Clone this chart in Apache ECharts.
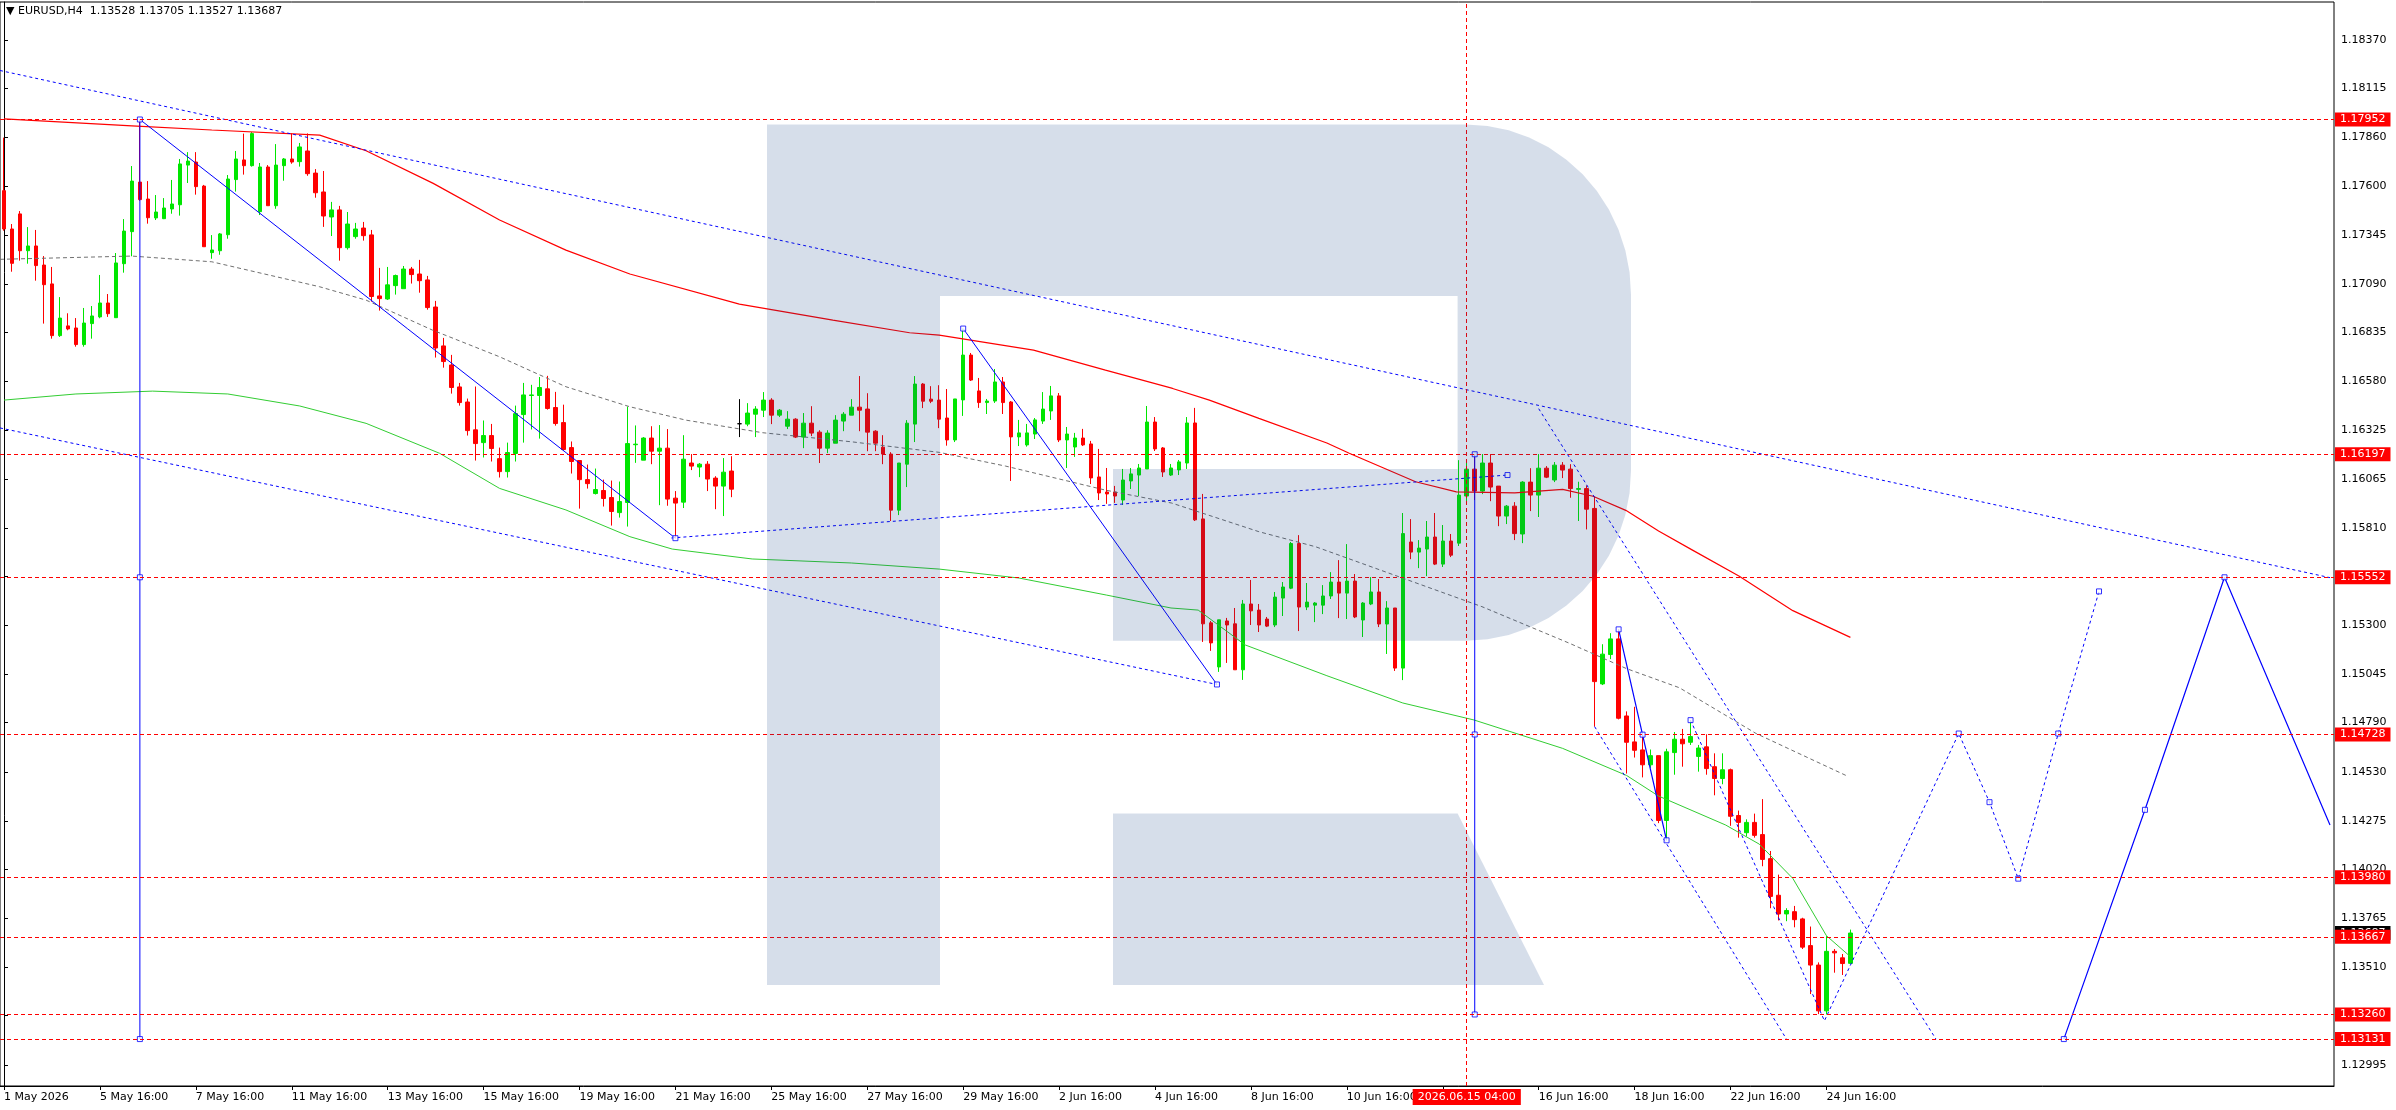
<!DOCTYPE html>
<html>
<head>
<meta charset="utf-8">
<script src="https://cdn.jsdelivr.net/npm/echarts@6/dist/echarts.min.js"></script>
<style>
  html, body { margin: 0; padding: 0; background: #fff; }
  #chart { width: 2396px; height: 1110px; }
</style>
</head>
<body>
<div id="chart"></div>
<script>
// EURUSD H4, bars from 1 May 2026 16:00 to 25 Jun 2026 04:00
const opens = [
  1.17579,1.17378,1.17457,1.17264,1.17289,1.17189,1.17090,1.16819,1.16870,1.16859,
  1.16772,1.16882,1.16917,1.16990,1.16913,1.17196,1.17364,1.17624,1.17535,1.17436,
  1.17432,1.17483,1.17505,1.17713,1.17729,1.17603,1.17254,1.17264,1.17348,1.17637,
  1.17740,1.17710,1.17469,1.17703,1.17500,1.17710,1.17745,1.17731,1.17787,1.17671,
  1.17572,1.17441,1.17478,1.17280,1.17338,1.17383,1.17347,1.17027,1.17011,1.17081,
  1.17065,1.17168,1.17142,1.17111,1.16969,1.16765,1.16665,1.16550,1.16471,1.16325,
  1.16258,1.16295,1.16174,1.16106,1.16201,1.16405,1.16505,1.16505,1.16540,1.16442,
  1.16363,1.16232,1.16164,1.16064,1.15991,1.16007,1.15970,1.15891,1.15944,1.16247,
  1.16166,1.16282,1.16213,1.16229,1.15967,1.15946,1.16151,1.16130,1.16145,1.16072,
  1.16030,1.16109,1.16357,1.16355,1.16407,1.16428,1.16481,1.16402,1.16344,1.16381,
  1.16287,1.16360,1.16313,1.16229,1.16255,1.16371,1.16402,1.16444,1.16434,1.16318,
  1.16234,1.16198,1.15904,1.16145,1.16355,1.16565,1.16486,1.16481,1.16387,1.16272,
  1.16482,1.16717,1.16529,1.16468,1.16476,1.16576,1.16471,1.16288,1.16246,1.16303,
  1.16371,1.16424,1.16503,1.16272,1.16235,1.16282,1.16251,1.16078,1.15999,1.15999,
  1.15957,1.16057,1.16088,1.16120,1.16366,1.16230,1.16088,1.16115,1.16151,1.16361,
  1.15858,1.15313,1.15082,1.15323,1.15308,1.15067,1.15412,1.15380,1.15333,1.15302,
  1.15443,1.15495,1.15729,1.15396,1.15406,1.15406,1.15454,1.15527,1.15469,1.15532,
  1.15328,1.15412,1.15475,1.15307,1.15391,1.15076,1.15737,1.15684,1.15700,1.15763,
  1.15621,1.15742,1.15731,1.15978,1.16119,1.16004,1.16151,1.16030,1.15873,1.15925,
  1.15779,1.16051,1.15983,1.16124,1.16062,1.16140,1.16119,1.16013,1.16017,1.15913,
  1.14993,1.15147,1.15229,1.14825,1.14689,1.14647,1.14569,1.14617,1.14277,1.14633,
  1.14703,1.14687,1.14613,1.14663,1.14559,1.14497,1.14543,1.14303,1.14213,1.14267,
  1.14203,1.14077,1.13885,1.13787,1.13799,1.13761,1.13621,1.13519,1.13279,1.13591,
  1.13557,1.13528
];
const highs = [
  1.17857,1.17404,1.17472,1.17388,1.17373,1.17236,1.17179,1.17021,1.16936,1.16911,
  1.16964,1.16974,1.17137,1.17037,1.17252,1.17430,1.17708,1.17952,1.17629,1.17556,
  1.17540,1.17635,1.17745,1.17781,1.17781,1.17609,1.17346,1.17357,1.17661,1.17787,
  1.17878,1.17886,1.17724,1.17713,1.17823,1.17750,1.17879,1.17829,1.17879,1.17692,
  1.17682,1.17520,1.17499,1.17467,1.17410,1.17415,1.17373,1.17174,1.17179,1.17139,
  1.17184,1.17179,1.17216,1.17132,1.17001,1.16807,1.16718,1.16571,1.16489,1.16552,
  1.16374,1.16356,1.16232,1.16258,1.16452,1.16571,1.16561,1.16602,1.16608,1.16524,
  1.16457,1.16264,1.16164,1.16143,1.16122,1.16064,1.16059,1.16054,1.16447,1.16348,
  1.16287,1.16344,1.16350,1.16329,1.16004,1.16297,1.16198,1.16151,1.16161,1.16082,
  1.16177,1.16187,1.16486,1.16465,1.16449,1.16523,1.16491,1.16434,1.16423,1.16386,
  1.16413,1.16449,1.16323,1.16323,1.16402,1.16418,1.16486,1.16607,1.16517,1.16323,
  1.16297,1.16208,1.16151,1.16376,1.16607,1.16570,1.16554,1.16559,1.16539,1.16487,
  1.16856,1.16728,1.16597,1.16487,1.16644,1.16602,1.16476,1.16377,1.16356,1.16387,
  1.16523,1.16555,1.16518,1.16340,1.16309,1.16330,1.16267,1.16225,1.16125,1.16031,
  1.16120,1.16125,1.16146,1.16450,1.16392,1.16235,1.16146,1.16167,1.16392,1.16440,
  1.15989,1.15323,1.15329,1.15339,1.15391,1.15433,1.15538,1.15412,1.15344,1.15475,
  1.15527,1.15737,1.15773,1.15522,1.15422,1.15511,1.15579,1.15642,1.15726,1.15569,
  1.15422,1.15553,1.15543,1.15427,1.15391,1.15889,1.15857,1.15747,1.15847,1.15889,
  1.15826,1.15779,1.16166,1.16166,1.16197,1.16198,1.16198,1.16030,1.15931,1.15946,
  1.16056,1.16124,1.16198,1.16135,1.16156,1.16156,1.16145,1.16053,1.16033,1.15973,
  1.15201,1.15259,1.15279,1.14849,1.14873,1.14729,1.14649,1.14617,1.14653,1.14741,
  1.14757,1.14803,1.14673,1.14729,1.14629,1.14629,1.14549,1.14329,1.14283,1.14313,
  1.14389,1.14117,1.13993,1.13817,1.13829,1.13767,1.13721,1.13533,1.13671,1.13603,
  1.13577,1.13705
];
const lows = [
  1.17369,1.17154,1.17212,1.17196,1.17107,1.16882,1.16803,1.16812,1.16847,1.16761,
  1.16761,1.16803,1.16910,1.16917,1.16913,1.17149,1.17235,1.17526,1.17406,1.17425,
  1.17430,1.17458,1.17448,1.17619,1.17558,1.17285,1.17222,1.17243,1.17327,1.17574,
  1.17663,1.17705,1.17451,1.17500,1.17484,1.17631,1.17720,1.17705,1.17657,1.17542,
  1.17389,1.17341,1.17212,1.17270,1.17327,1.17317,1.16997,1.16950,1.17006,1.17034,
  1.17065,1.17092,1.17044,1.16955,1.16704,1.16651,1.16515,1.16452,1.16295,1.16164,
  1.16180,1.16159,1.16075,1.16075,1.16159,1.16258,1.16327,1.16279,1.16431,1.16347,
  1.16216,1.16096,1.15912,1.16017,1.15986,1.15923,1.15823,1.15865,1.15818,1.16152,
  1.16166,1.16145,1.15930,1.15927,1.15756,1.15915,1.16114,1.16077,1.16004,1.15909,
  1.15873,1.15972,1.16287,1.16344,1.16287,1.16392,1.16355,1.16392,1.16329,1.16282,
  1.16229,1.16292,1.16151,1.16203,1.16255,1.16318,1.16402,1.16318,1.16213,1.16213,
  1.16145,1.15847,1.15878,1.16025,1.16261,1.16439,1.16465,1.16334,1.16242,1.16261,
  1.16398,1.16581,1.16440,1.16408,1.16466,1.16408,1.16057,1.16240,1.16237,1.16277,
  1.16356,1.16377,1.16261,1.16125,1.16183,1.16240,1.16041,1.15957,1.15937,1.15942,
  1.15931,1.16015,1.15978,1.16120,1.16214,1.16078,1.16083,1.16088,1.16120,1.15847,
  1.15213,1.15166,1.15056,1.15103,1.15067,1.15014,1.15302,1.15265,1.15291,1.15291,
  1.15349,1.15490,1.15270,1.15380,1.15317,1.15359,1.15438,1.15338,1.15333,1.15338,
  1.15239,1.15406,1.15291,1.15150,1.15061,1.15013,1.15647,1.15600,1.15558,1.15616,
  1.15606,1.15658,1.15716,1.15931,1.15957,1.15988,1.15951,1.15820,1.15831,1.15747,
  1.15731,1.15899,1.15868,1.16072,1.16051,1.16072,1.15969,1.15847,1.15803,1.14769,
  1.14987,1.15123,1.14807,1.14523,1.14607,1.14503,1.14553,1.14263,1.14173,1.14517,
  1.14559,1.14673,1.14533,1.14517,1.14409,1.14467,1.14249,1.14187,1.14193,1.14187,
  1.14037,1.13817,1.13753,1.13749,1.13717,1.13603,1.13367,1.13262,1.13260,1.13479,
  1.13467,1.13527
];
const closes = [
  1.17378,1.17198,1.17264,1.17289,1.17186,1.17086,1.16819,1.16911,1.16854,1.16772,
  1.16885,1.16922,1.16990,1.16934,1.17200,1.17367,1.17629,1.17532,1.17437,1.17467,
  1.17488,1.17509,1.17719,1.17734,1.17600,1.17285,1.17268,1.17352,1.17640,1.17745,
  1.17710,1.17878,1.17703,1.17500,1.17713,1.17745,1.17729,1.17808,1.17668,1.17568,
  1.17446,1.17478,1.17280,1.17404,1.17378,1.17343,1.17024,1.17013,1.17085,1.17134,
  1.17168,1.17139,1.17107,1.16966,1.16754,1.16683,1.16547,1.16468,1.16321,1.16253,
  1.16295,1.16227,1.16106,1.16206,1.16410,1.16508,1.16508,1.16547,1.16437,1.16358,
  1.16222,1.16159,1.16064,1.16043,1.16012,1.15965,1.15897,1.15949,1.16253,1.16250,
  1.16282,1.16213,1.16229,1.15962,1.15941,1.16171,1.16135,1.16145,1.16067,1.16030,
  1.16103,1.16014,1.16357,1.16413,1.16434,1.16481,1.16402,1.16428,1.16381,1.16287,
  1.16360,1.16308,1.16229,1.16308,1.16376,1.16407,1.16444,1.16428,1.16313,1.16255,
  1.16198,1.15904,1.16151,1.16360,1.16565,1.16475,1.16475,1.16381,1.16272,1.16487,
  1.16717,1.16586,1.16468,1.16476,1.16576,1.16468,1.16288,1.16309,1.16309,1.16377,
  1.16434,1.16503,1.16272,1.16303,1.16282,1.16246,1.16073,1.15994,1.15989,1.15978,
  1.16062,1.16094,1.16125,1.16366,1.16225,1.16104,1.16125,1.16157,1.16361,1.15853,
  1.15308,1.15208,1.15329,1.15302,1.15067,1.15412,1.15376,1.15302,1.15296,1.15448,
  1.15501,1.15729,1.15396,1.15422,1.15417,1.15454,1.15527,1.15469,1.15532,1.15344,
  1.15417,1.15475,1.15307,1.15391,1.15076,1.15781,1.15684,1.15705,1.15763,1.15621,
  1.15742,1.15668,1.15983,1.16119,1.16004,1.16151,1.16025,1.15873,1.15925,1.15781,
  1.16051,1.15983,1.16124,1.16077,1.16140,1.16114,1.16017,1.16017,1.15909,1.15005,
  1.15149,1.15229,1.14813,1.14687,1.14645,1.14569,1.14617,1.14277,1.14637,1.14703,
  1.14679,1.14717,1.14657,1.14549,1.14497,1.14543,1.14299,1.14267,1.14267,1.14199,
  1.14073,1.13879,1.13787,1.13805,1.13757,1.13613,1.13519,1.13279,1.13591,1.13583,
  1.13527,1.13687
];
const dojiBars = [92];
const totalSlots = 292; // bars plus empty space on the right

const xTickIdx = [0,12,24,36,48,60,72,84,96,108,120,132,144,156,168,180,192,204,216,228];
const xTickText = ['1 May 2026','5 May 16:00','7 May 16:00','11 May 16:00','13 May 16:00','15 May 16:00',
  '19 May 16:00','21 May 16:00','25 May 16:00','27 May 16:00','29 May 16:00','2 Jun 16:00','4 Jun 16:00',
  '8 Jun 16:00','10 Jun 16:00','12 Jun 16:00','16 Jun 16:00','18 Jun 16:00','22 Jun 16:00','24 Jun 16:00'];
const yTicks = [1.18370,1.18115,1.17860,1.17600,1.17345,1.17090,1.16835,1.16580,1.16325,1.16065,1.15810,
  1.15555,1.15300,1.15045,1.14790,1.14530,1.14275,1.14020,1.13765,1.13510,1.13255,1.12995];
const levels = [1.17952,1.16197,1.15552,1.14728,1.13980,1.13667,1.13260,1.13131];
const lastPrice = 1.13687;
const crossIdx = 183;
const crossText = '2026.06.15 04:00';
const headerText = '\u25BC EURUSD,H4  1.13528 1.13705 1.13527 1.13687';

// moving averages and channel middle, [bar, price]
const redMA = [[0,1.17955],[16,1.17919],[26,1.17897],[39.5,1.17870],[45.3,1.17788],[53.7,1.17617],[62,1.17425],
  [70.3,1.17267],[78.3,1.17142],[92,1.16984],[103.7,1.16900],[113.3,1.16834],[117,1.16822],[128.8,1.16743],
  [137.8,1.16638],[146.2,1.16542],[150.8,1.16481],[157,1.16385],[165.5,1.16256],[168.3,1.16202],[176.6,1.16053],
  [181.7,1.16000],[189,1.15995],[195,1.16013],[198.8,1.15977],[202.9,1.15903],[207,1.15795],[211.3,1.15693],
  [217.1,1.15557],[223.8,1.15377],[231,1.15237]];
const greenMA = [[0,1.16481],[9,1.16513],[18.6,1.16528],[28,1.16513],[37,1.16450],[45.3,1.16359],[54.5,1.16202],
  [62,1.16018],[70.3,1.15905],[78.3,1.15765],[83.6,1.15700],[93.6,1.15648],[106,1.15627],[117,1.15595],
  [127,1.15548],[137.9,1.15459],[146,1.15391],[149.4,1.15380],[155.3,1.15197],[165.5,1.15036],[175,1.14893],
  [183.9,1.14804],[195,1.14655],[203,1.14513],[207,1.14405],[215.4,1.14253],[219.6,1.14153],[223.8,1.13973],
  [228,1.13673],[231,1.13563]];
const grayLine = [[-0.5,1.17219],[16,1.17236],[26,1.17206],[39.5,1.17075],[45.3,1.17005],[53.6,1.16848],
  [62,1.16708],[70.3,1.16551],[78.3,1.16446],[85.3,1.16376],[94.9,1.16310],[106.1,1.16262],[117,1.16207],
  [125.3,1.16135],[137.8,1.16009],[146.1,1.15941],[157,1.15791],[164.1,1.15712],[174.5,1.15555],
  [184.9,1.15398],[195.8,1.15207],[203,1.15073],[209.6,1.14973],[219.2,1.14733],[230.6,1.14510]];

// blue dotted trend lines
const chanUpper = [[-0.5,1.18209],[291,1.15550]];
const chanLower = [[-0.5,1.16335],[151.75,1.14990]];
const riseLine = [[83.5,1.15758],[188.1,1.16088]];
const dropUpper = [[192,1.16436],[241.7,1.13131]];
const dropLower = [[199,1.14769],[223,1.13131]];
const forecastDots = [[211,1.14803],[227.75,1.13227],[244.55,1.14733],[248.4,1.14373],[252,1.13972],
  [257,1.14733],[262.1,1.15478]];
// blue solid lines
const zig1 = [[17,1.17952],[84,1.15757]];
const vert1 = [[17,1.17952],[17,1.13131]];
const zig2 = [[120,1.16856],[151.75,1.14990]];
const vert2 = [[184,1.16197],[184,1.13260]];
const zig3 = [[202,1.15279],[208,1.14173]];
const forecastSolid = [[257.7,1.13131],[267.85,1.14333],[277.8,1.15552],[291,1.14253]];
const anchors = [[17,1.17952],[17,1.15552],[17,1.13131],[84,1.15757],[120,1.16856],[151.75,1.14990],
  [184,1.16197],[184,1.14728],[184,1.13260],[188.1,1.16088],[202,1.15279],[205,1.14727],[208,1.14173],
  [211,1.14803],[244.55,1.14733],[248.4,1.14373],[252,1.13972],[257,1.14733],[262.1,1.15478],
  [257.7,1.13131],[267.85,1.14333],[277.8,1.15552]];

const FONT = 'DejaVu Sans';
const slots = Array.from({length: totalSlots}, (_, i) => String(i));
const tickMap = new Map(xTickIdx.map((v, i) => [v, xTickText[i]]));

const candles = opens.map((o, i) => {
  const item = {value: [o, closes[i], lows[i], highs[i]]};
  if (dojiBars.includes(i)) {
    item.itemStyle = {color: '#000', color0: '#000', borderColor: '#000', borderColor0: '#000'};
  }
  return item;
});

function lineSeries(data, color, width, type, extra) {
  return Object.assign({
    type: 'line', xAxisIndex: 1, yAxisIndex: 0, data: data,
    symbol: 'none', showSymbol: false, silent: true, z: 3,
    lineStyle: {color: color, width: width, type: type}
  }, extra || {});
}

const redLabel = {
  show: true, position: 'end', distance: 1, color: '#fff', backgroundColor: '#ff0000',
  padding: [2, 5, 1, 5], fontSize: 11, fontFamily: FONT,
  formatter: p => Number(p.value).toFixed(5)
};

const levelLines = [{
  yAxis: lastPrice, lineStyle: {color: 'rgba(0,0,0,0)', width: 0},
  label: Object.assign({}, redLabel, {backgroundColor: '#000'})
}].concat(levels.map(v => ({
  yAxis: v, lineStyle: {color: '#ff0000', type: [4, 3], width: 1}, label: redLabel
})));

// watermark outline (decoration, pixel space)
function rLetter() {
  const pts = [[767, 124.5], [1466, 124.5]];
  for (let a = 1; a <= 12; a++) {
    const t = -Math.PI / 2 + a * Math.PI / 24;
    pts.push([1466 + 165 * Math.cos(t), 294.5 + 170 * Math.sin(t)]);
  }
  pts.push([1631, 470.7]);
  for (let a = 1; a <= 12; a++) {
    const t = a * Math.PI / 24;
    pts.push([1466 + 165 * Math.cos(t), 470.7 + 170 * Math.sin(t)]);
  }
  pts.push([1113, 640.7], [1113, 469], [1457.6, 469], [1457.6, 296], [940, 296], [940, 985], [767, 985]);
  return pts;
}
const markFill = 'rgba(10,60,130,0.17)';

const chart = echarts.init(document.getElementById('chart'));
chart.setOption({
  animation: false,
  backgroundColor: '#fff',
  grid: {left: 0, right: 62, top: 2, bottom: 24, show: true, borderColor: '#000', borderWidth: 1},
  xAxis: [{
    type: 'category', data: slots, boundaryGap: true,
    axisLine: {lineStyle: {color: '#000', width: 1}},
    axisTick: {show: true, length: 4, alignWithLabel: true, interval: idx => tickMap.has(idx), lineStyle: {color: '#000'}},
    axisLabel: {
      interval: idx => tickMap.has(idx), formatter: (v, idx) => tickMap.get(Number(v)) || '',
      align: 'left', color: '#000', fontSize: 11, fontFamily: FONT, margin: 6
    },
    splitLine: {show: false}
  }, {
    type: 'value', min: -0.5, max: totalSlots - 0.5, show: false
  }],
  yAxis: {
    type: 'value', position: 'right', min: 1.12885, max: 1.18568, scale: true,
    axisLine: {show: true, lineStyle: {color: '#000', width: 1}},
    axisTick: {show: true, length: 4, customValues: yTicks, lineStyle: {color: '#000'}},
    axisLabel: {customValues: yTicks, formatter: v => Number(v).toFixed(5), color: '#000',
      fontSize: 11, fontFamily: FONT, margin: 7},
    splitLine: {show: false}
  },
  graphic: [
    {type: 'polygon', shape: {points: rLetter()}, style: {fill: markFill}, z: 100, silent: true},
    {type: 'polygon', shape: {points: [[1113, 813.4], [1457.6, 813.4], [1544, 985], [1113, 985]]},
      style: {fill: markFill}, z: 100, silent: true},
    {type: 'text', left: 6, top: 6, z: 100, silent: true,
      style: {text: headerText, fill: '#000', font: '11px "DejaVu Sans"'}}
  ],
  series: [
    {
      type: 'candlestick', xAxisIndex: 0, yAxisIndex: 0, data: candles, barWidth: 4, z: 2,
      itemStyle: {color: '#00e600', color0: '#ff0000', borderColor: '#00e600', borderColor0: '#ff0000', borderWidth: 1},
      markLine: {silent: true, symbol: ['none', 'none'], animation: false, precision: 5, data: levelLines}
    },
    lineSeries(redMA, '#ff0000', 1.2, 'solid'),
    lineSeries(greenMA, '#32cd32', 1, 'solid'),
    lineSeries(grayLine, '#707070', 1, [4, 3], {
      markLine: {
        silent: true, symbol: ['none', 'none'], animation: false, precision: 0,
        data: [{xAxis: crossIdx}],
        lineStyle: {color: '#ff0000', type: [4, 3], width: 1},
        label: {show: true, position: 'start', formatter: crossText, color: '#fff', backgroundColor: '#ff0000',
          padding: [3, 5, 2, 5], fontSize: 11, fontFamily: FONT, distance: 3}
      }
    }),
    lineSeries(chanUpper, '#0000ff', 1, [3, 3]),
    lineSeries(chanLower, '#0000ff', 1, [3, 3]),
    lineSeries(riseLine, '#0000ff', 1, [3, 3]),
    lineSeries(dropUpper, '#0000ff', 1, [3, 3]),
    lineSeries(dropLower, '#0000ff', 1, [3, 3]),
    lineSeries(forecastDots, '#0000ff', 1, [3, 3]),
    lineSeries(zig1, '#0000ff', 1, 'solid'),
    lineSeries(vert1, '#0000ff', 1, 'solid'),
    lineSeries(zig2, '#0000ff', 1, 'solid'),
    lineSeries(vert2, '#0000ff', 1, 'solid'),
    lineSeries(zig3, '#0000ff', 1.2, 'solid'),
    lineSeries(forecastSolid, '#0000ff', 1.2, 'solid'),
    {
      type: 'scatter', xAxisIndex: 1, yAxisIndex: 0, data: anchors, symbol: 'rect', symbolSize: 5,
      silent: true, z: 4, itemStyle: {color: '#fff', borderColor: '#0000ff', borderWidth: 1}
    }
  ]
});
</script>
</body>
</html>
